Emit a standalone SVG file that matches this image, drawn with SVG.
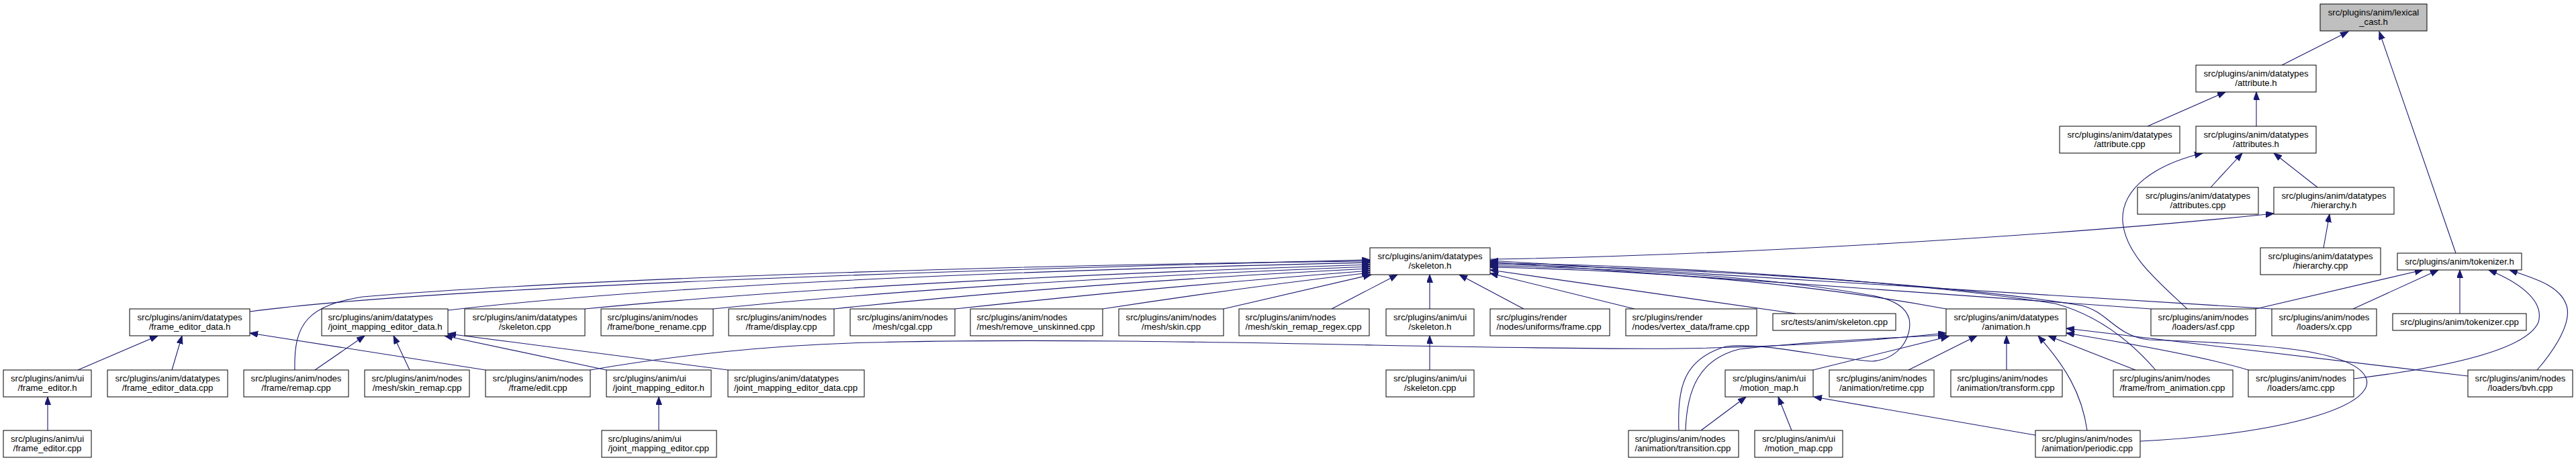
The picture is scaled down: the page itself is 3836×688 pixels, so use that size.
<svg xmlns="http://www.w3.org/2000/svg" width="3836" height="688" viewBox="0 0 3836 688">
<defs>
<style>
.node rect{fill:#fff;stroke:#000;stroke-width:1}
.node rect.hl{fill:#bfbfbf}
text{font-family:"Liberation Sans",Arial,Helvetica,sans-serif;font-size:13.2px;fill:#000}
.c{text-anchor:middle}
.edges path{fill:none;stroke:#191970;stroke-width:1.1;marker-end:url(#arr)}
</style>
<marker id="arr" markerWidth="13" markerHeight="10" refX="12" refY="4.5" orient="auto" markerUnits="userSpaceOnUse"><path d="M0,0 L12,4.5 L0,9 z" fill="#191970" stroke="#191970" stroke-width="1"/></marker>
</defs>
<rect width="3836" height="688" fill="#fff"/>
<g class="edges">
<path d="M3398,97 L3497,47"/>
<path d="M3657,377 L3543,47"/>
<path d="M3198,188 L3314,137"/>
<path d="M3360,188 L3360,137"/>
<path d="M3292,279 L3339,228"/>
<path d="M3451,279 L3386,228"/>
<path d="M3257,460 C3215,420 3165,380 3161,330 C3158,280 3210,245 3280,228"/>
<path d="M3460,369 L3469,319"/>
<path d="M2219,386 C2600,380 3100,348 3386,318"/>
<path d="M3359,460 L3608,402"/>
<path d="M3504,460 L3631,402"/>
<path d="M3663,467 L3663,402"/>
<path d="M3505,564 C3620,550 3760,525 3780,480 C3790,445 3745,418 3706,402"/>
<path d="M3778,551 C3805,520 3830,480 3822,455 C3812,425 3775,415 3737,402"/>
<path d="M372,464 Q700,420 2040,387"/>
<path d="M439,551 C437,480 460,455 540,442 C900,412 1600,393 2040,389"/>
<path d="M667,462 Q1100,412 2040,391"/>
<path d="M871,460 Q1300,418 2040,394"/>
<path d="M1062,460 Q1450,420 2040,397"/>
<path d="M1242,460 Q1600,422 2040,400"/>
<path d="M1422,460 Q1750,425 2040,403"/>
<path d="M1642,460 Q1850,428 2040,406"/>
<path d="M1822,460 Q1960,428 2042,409"/>
<path d="M1983,460 L2081,409"/>
<path d="M2129,460 L2129,409"/>
<path d="M2269,460 L2173,409"/>
<path d="M2434,460 L2219,407"/>
<path d="M2674,467 L2219,402"/>
<path d="M2898,460 Q2600,405 2219,398"/>
<path d="M3203,460 L2219,390"/>
<path d="M3383,460 L2219,388"/>
<path d="M3210,551 C3170,505 3120,468 3060,452 C2850,420 2500,395 2219,392"/>
<path d="M3187,657 C3420,645 3545,600 3522,560 C3500,522 3380,512 3200,506 C3150,500 3140,465 3100,455 C2900,422 2500,398 2219,394"/>
<path d="M2500,641 C2498,580 2505,535 2570,516 C2630,510 2700,530 2787,538 C2830,535 2848,500 2843,475 C2838,455 2815,445 2787,440 C2650,415 2450,400 2219,396"/>
<path d="M879,551 C1000,530 1150,513 1300,510 C1700,500 2200,522 2500,519 C2700,516 2830,503 2898,496"/>
<path d="M2510,641 C2512,580 2530,535 2590,520 C2700,508 2820,503 2898,499"/>
<path d="M2700,551 L2902,501"/>
<path d="M2842,551 L2944,500"/>
<path d="M2988,551 L2988,500"/>
<path d="M3108,641 C3100,585 3075,545 3035,500"/>
<path d="M3180,551 L3050,500"/>
<path d="M3348,551 C3280,530 3150,508 3077,496"/>
<path d="M3675,560 L3077,489"/>
<path d="M2533,641 L2600,591"/>
<path d="M2668,641 L2648,591"/>
<path d="M3031,648 L2701,591"/>
<path d="M116,551 L235,500"/>
<path d="M256,551 L271,500"/>
<path d="M723,551 L372,496"/>
<path d="M469,551 L543,500"/>
<path d="M610,551 L586,500"/>
<path d="M903,551 L662,500"/>
<path d="M1084,551 L667,497"/>
<path d="M71,641 L71,591"/>
<path d="M981,641 L981,591"/>
<path d="M2129,551 L2129,500"/>
</g>
<g id="n_lexical" class="node"><rect class="hl" x="3455" y="6" width="159" height="40"/><text class="c" x="3534.5" y="22.5">src/plugins/anim/lexical</text><text class="c" x="3534.5" y="37">_cast.h</text></g>
<g id="n_attribute_h" class="node"><rect x="3270" y="97" width="179" height="40"/><text class="c" x="3359.5" y="113.5">src/plugins/anim/datatypes</text><text class="c" x="3359.5" y="128">/attribute.h</text></g>
<g id="n_attribute_cpp" class="node"><rect x="3067" y="188" width="179" height="40"/><text class="c" x="3156.5" y="204.5">src/plugins/anim/datatypes</text><text class="c" x="3156.5" y="219">/attribute.cpp</text></g>
<g id="n_attributes_h" class="node"><rect x="3270" y="188" width="179" height="40"/><text class="c" x="3359.5" y="204.5">src/plugins/anim/datatypes</text><text class="c" x="3359.5" y="219">/attributes.h</text></g>
<g id="n_attributes_cpp" class="node"><rect x="3183" y="279" width="180" height="40"/><text class="c" x="3273" y="295.5">src/plugins/anim/datatypes</text><text class="c" x="3273" y="310">/attributes.cpp</text></g>
<g id="n_hierarchy_h" class="node"><rect x="3386" y="279" width="179" height="40"/><text class="c" x="3475.5" y="295.5">src/plugins/anim/datatypes</text><text class="c" x="3475.5" y="310">/hierarchy.h</text></g>
<g id="n_skeleton_h" class="node"><rect x="2040" y="369" width="179" height="40"/><text class="c" x="2129.5" y="385.5">src/plugins/anim/datatypes</text><text class="c" x="2129.5" y="400">/skeleton.h</text></g>
<g id="n_hierarchy_cpp" class="node"><rect x="3366" y="369" width="179" height="40"/><text class="c" x="3455.5" y="385.5">src/plugins/anim/datatypes</text><text class="c" x="3455.5" y="400">/hierarchy.cpp</text></g>
<g id="n_tokenizer_h" class="node"><rect x="3570" y="377" width="185" height="25"/><text class="c" x="3662.5" y="394">src/plugins/anim/tokenizer.h</text></g>
<g id="n_frame_editor_data_h" class="node"><rect x="193" y="460" width="179" height="40"/><text class="c" x="282.5" y="476.5">src/plugins/anim/datatypes</text><text class="c" x="282.5" y="491">/frame_editor_data.h</text></g>
<g id="n_joint_mapping_editor_data_h" class="node"><rect x="479" y="460" width="188" height="40"/><text x="488.5" y="476.5">src/plugins/anim/datatypes</text><text x="488.5" y="491">/joint_mapping_editor_data.h</text></g>
<g id="n_skeleton_cpp" class="node"><rect x="692" y="460" width="179" height="40"/><text class="c" x="781.5" y="476.5">src/plugins/anim/datatypes</text><text class="c" x="781.5" y="491">/skeleton.cpp</text></g>
<g id="n_bone_rename" class="node"><rect x="895" y="460" width="167" height="40"/><text x="904.5" y="476.5">src/plugins/anim/nodes</text><text x="904.5" y="491">/frame/bone_rename.cpp</text></g>
<g id="n_display" class="node"><rect x="1085" y="460" width="157" height="40"/><text class="c" x="1163.5" y="476.5">src/plugins/anim/nodes</text><text class="c" x="1163.5" y="491">/frame/display.cpp</text></g>
<g id="n_cgal" class="node"><rect x="1266" y="460" width="156" height="40"/><text class="c" x="1344" y="476.5">src/plugins/anim/nodes</text><text class="c" x="1344" y="491">/mesh/cgal.cpp</text></g>
<g id="n_remove_unskinned" class="node"><rect x="1445" y="460" width="197" height="40"/><text x="1454.5" y="476.5">src/plugins/anim/nodes</text><text x="1454.5" y="491">/mesh/remove_unskinned.cpp</text></g>
<g id="n_skin" class="node"><rect x="1666" y="460" width="156" height="40"/><text class="c" x="1744" y="476.5">src/plugins/anim/nodes</text><text class="c" x="1744" y="491">/mesh/skin.cpp</text></g>
<g id="n_skin_remap_regex" class="node"><rect x="1845" y="460" width="194" height="40"/><text x="1854.5" y="476.5">src/plugins/anim/nodes</text><text x="1854.5" y="491">/mesh/skin_remap_regex.cpp</text></g>
<g id="n_ui_skeleton_h" class="node"><rect x="2064" y="460" width="131" height="40"/><text class="c" x="2129.5" y="476.5">src/plugins/anim/ui</text><text class="c" x="2129.5" y="491">/skeleton.h</text></g>
<g id="n_uniforms_frame" class="node"><rect x="2219" y="460" width="178" height="40"/><text x="2228.5" y="476.5">src/plugins/render</text><text x="2228.5" y="491">/nodes/uniforms/frame.cpp</text></g>
<g id="n_vertex_data_frame" class="node"><rect x="2421" y="460" width="195" height="40"/><text x="2430.5" y="476.5">src/plugins/render</text><text x="2430.5" y="491">/nodes/vertex_data/frame.cpp</text></g>
<g id="n_tests_skeleton" class="node"><rect x="2640" y="467" width="183" height="25"/><text class="c" x="2731.5" y="484">src/tests/anim/skeleton.cpp</text></g>
<g id="n_animation_h" class="node"><rect x="2898" y="460" width="179" height="40"/><text class="c" x="2987.5" y="476.5">src/plugins/anim/datatypes</text><text class="c" x="2987.5" y="491">/animation.h</text></g>
<g id="n_asf" class="node"><rect x="3203" y="460" width="156" height="40"/><text class="c" x="3281" y="476.5">src/plugins/anim/nodes</text><text class="c" x="3281" y="491">/loaders/asf.cpp</text></g>
<g id="n_x" class="node"><rect x="3383" y="460" width="156" height="40"/><text class="c" x="3461" y="476.5">src/plugins/anim/nodes</text><text class="c" x="3461" y="491">/loaders/x.cpp</text></g>
<g id="n_tokenizer_cpp" class="node"><rect x="3563" y="467" width="199" height="25"/><text class="c" x="3662.5" y="484">src/plugins/anim/tokenizer.cpp</text></g>
<g id="n_frame_editor_h" class="node"><rect x="5" y="551" width="131" height="40"/><text class="c" x="70.5" y="567.5">src/plugins/anim/ui</text><text class="c" x="70.5" y="582">/frame_editor.h</text></g>
<g id="n_frame_editor_data_cpp" class="node"><rect x="160" y="551" width="179" height="40"/><text class="c" x="249.5" y="567.5">src/plugins/anim/datatypes</text><text class="c" x="249.5" y="582">/frame_editor_data.cpp</text></g>
<g id="n_remap" class="node"><rect x="363" y="551" width="156" height="40"/><text class="c" x="441" y="567.5">src/plugins/anim/nodes</text><text class="c" x="441" y="582">/frame/remap.cpp</text></g>
<g id="n_skin_remap" class="node"><rect x="543" y="551" width="156" height="40"/><text class="c" x="621" y="567.5">src/plugins/anim/nodes</text><text class="c" x="621" y="582">/mesh/skin_remap.cpp</text></g>
<g id="n_edit" class="node"><rect x="723" y="551" width="156" height="40"/><text class="c" x="801" y="567.5">src/plugins/anim/nodes</text><text class="c" x="801" y="582">/frame/edit.cpp</text></g>
<g id="n_joint_mapping_editor_h" class="node"><rect x="903" y="551" width="156" height="40"/><text x="912.5" y="567.5">src/plugins/anim/ui</text><text x="912.5" y="582">/joint_mapping_editor.h</text></g>
<g id="n_joint_mapping_editor_data_cpp" class="node"><rect x="1084" y="551" width="203" height="40"/><text x="1093" y="567.5">src/plugins/anim/datatypes</text><text x="1093" y="582">/joint_mapping_editor_data.cpp</text></g>
<g id="n_ui_skeleton_cpp" class="node"><rect x="2064" y="551" width="131" height="40"/><text class="c" x="2129.5" y="567.5">src/plugins/anim/ui</text><text class="c" x="2129.5" y="582">/skeleton.cpp</text></g>
<g id="n_motion_map_h" class="node"><rect x="2569" y="551" width="131" height="40"/><text class="c" x="2634.5" y="567.5">src/plugins/anim/ui</text><text class="c" x="2634.5" y="582">/motion_map.h</text></g>
<g id="n_retime" class="node"><rect x="2724" y="551" width="156" height="40"/><text class="c" x="2802" y="567.5">src/plugins/anim/nodes</text><text class="c" x="2802" y="582">/animation/retime.cpp</text></g>
<g id="n_transform" class="node"><rect x="2905" y="551" width="166" height="40"/><text x="2914.5" y="567.5">src/plugins/anim/nodes</text><text x="2914.5" y="582">/animation/transform.cpp</text></g>
<g id="n_from_animation" class="node"><rect x="3147" y="551" width="178" height="40"/><text x="3156.5" y="567.5">src/plugins/anim/nodes</text><text x="3156.5" y="582">/frame/from_animation.cpp</text></g>
<g id="n_amc" class="node"><rect x="3348" y="551" width="157" height="40"/><text class="c" x="3426.5" y="567.5">src/plugins/anim/nodes</text><text class="c" x="3426.5" y="582">/loaders/amc.cpp</text></g>
<g id="n_bvh" class="node"><rect x="3675" y="551" width="156" height="40"/><text class="c" x="3753" y="567.5">src/plugins/anim/nodes</text><text class="c" x="3753" y="582">/loaders/bvh.cpp</text></g>
<g id="n_frame_editor_cpp" class="node"><rect x="5" y="641" width="131" height="40"/><text class="c" x="70.5" y="657.5">src/plugins/anim/ui</text><text class="c" x="70.5" y="672">/frame_editor.cpp</text></g>
<g id="n_joint_mapping_editor_cpp" class="node"><rect x="896" y="641" width="171" height="40"/><text x="905.5" y="657.5">src/plugins/anim/ui</text><text x="905.5" y="672">/joint_mapping_editor.cpp</text></g>
<g id="n_transition" class="node"><rect x="2425" y="641" width="164" height="40"/><text x="2434.5" y="657.5">src/plugins/anim/nodes</text><text x="2434.5" y="672">/animation/transition.cpp</text></g>
<g id="n_motion_map_cpp" class="node"><rect x="2613" y="641" width="131" height="40"/><text class="c" x="2678.5" y="657.5">src/plugins/anim/ui</text><text class="c" x="2678.5" y="672">/motion_map.cpp</text></g>
<g id="n_periodic" class="node"><rect x="3031" y="641" width="156" height="40"/><text x="3040.5" y="657.5">src/plugins/anim/nodes</text><text x="3040.5" y="672">/animation/periodic.cpp</text></g>
</svg>
